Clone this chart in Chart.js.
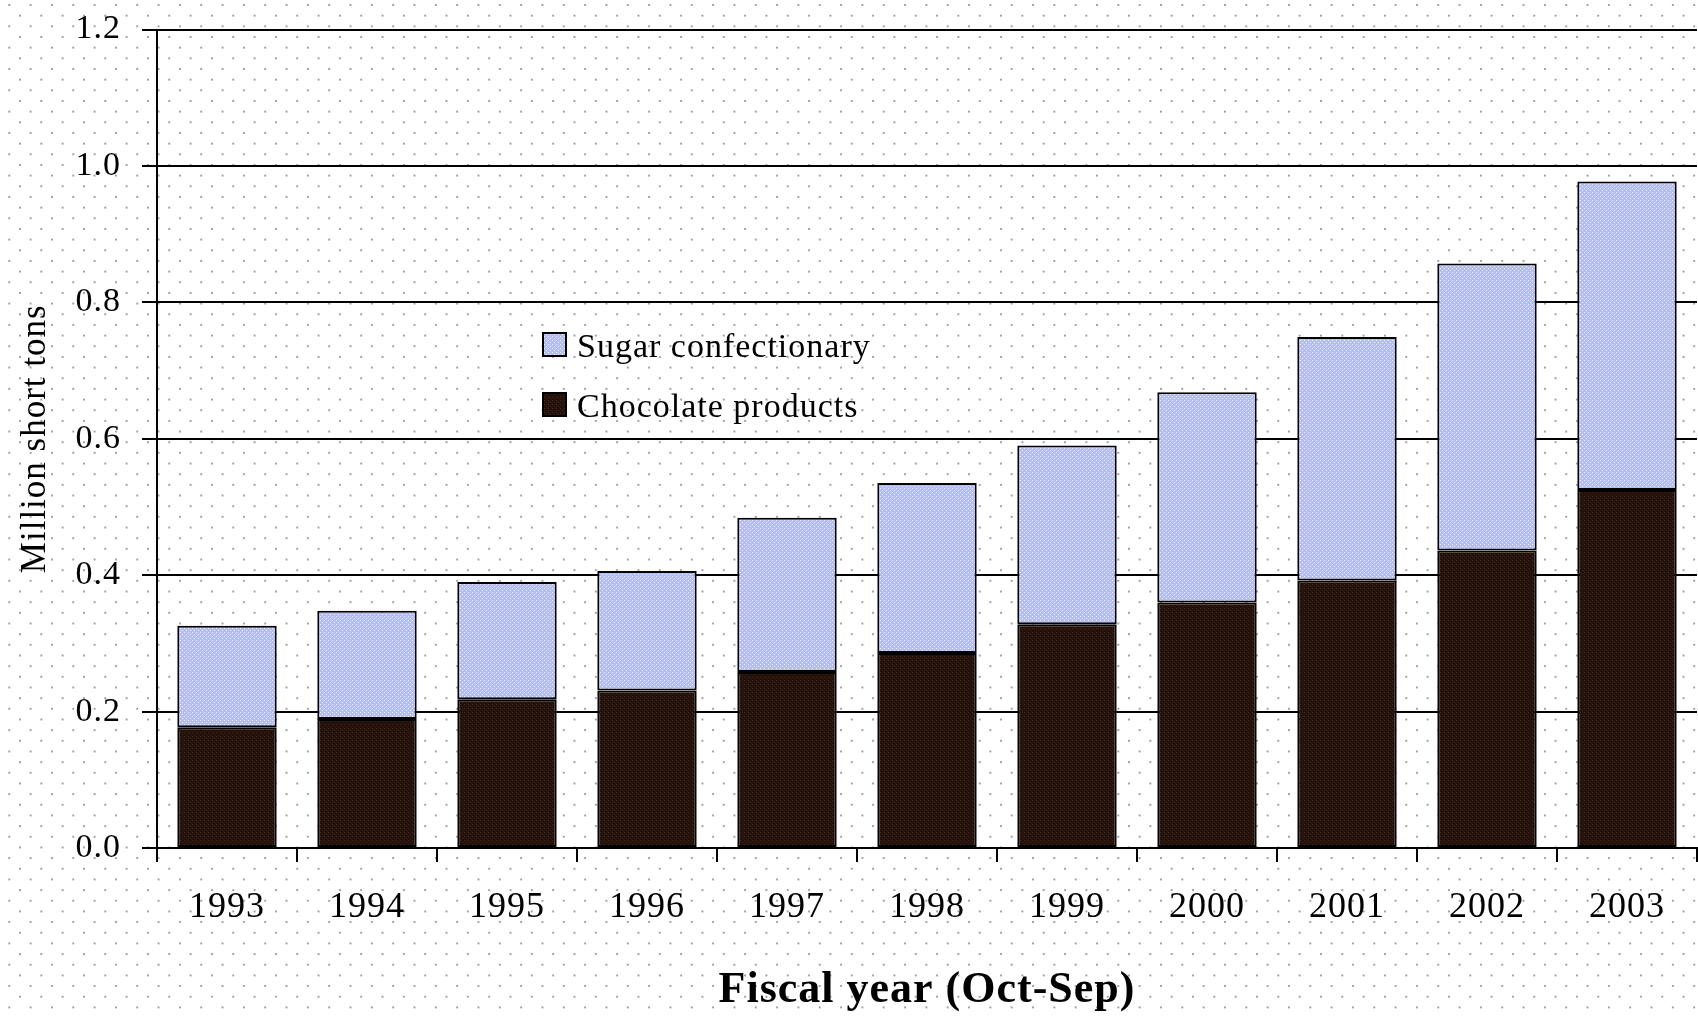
<!DOCTYPE html>
<html>
<head>
<meta charset="utf-8">
<title>Confectionery</title>
<script src="https://cdn.jsdelivr.net/npm/chart.js@4.4.0/dist/chart.umd.min.js"></script>
<style>
  html, body {
    margin: 0;
    padding: 0;
    background-color: #fff;
    background-image:
      radial-gradient(circle, #a0a0a0 0.9px, transparent 1.4px),
      radial-gradient(circle, #a0a0a0 0.9px, transparent 1.4px);
    background-size: 21.33px 21.33px;
    background-position: -1.4px -5.7px, 9.3px 5px;
  }
  #wrap { width: 1698px; height: 1017px; position: relative; }
</style>
</head>
<body>
<div id="wrap"><canvas id="chart"></canvas></div>
<script>
const years = ["1993", "1994", "1995", "1996", "1997", "1998", "1999", "2000", "2001", "2002", "2003"];
const chocolate = [0.177, 0.189, 0.218, 0.231, 0.258, 0.286, 0.328, 0.360, 0.392, 0.436, 0.525];
const sugar = [0.149, 0.159, 0.172, 0.175, 0.226, 0.249, 0.262, 0.308, 0.357, 0.421, 0.452];
const yTicks = [0, 0.2, 0.4, 0.6, 0.8, 1.0, 1.2];

const serif = "'Liberation Serif', 'DejaVu Serif', serif";

// little dithered tiles, roughly like the scanned fill
const makePattern = (base, dots) => {
  const c = document.createElement("canvas");
  c.width = 4;
  c.height = 4;
  const g = c.getContext("2d");
  g.fillStyle = base;
  g.fillRect(0, 0, 4, 4);
  dots.forEach(([x, y, col]) => {
    g.fillStyle = col;
    g.fillRect(x, y, 1, 1);
  });
  return g.createPattern(c, "repeat");
};

const sugarFill = makePattern("#b8bbf8", [[0, 0, "#e8f4ff"], [2, 2, "#e8f4ff"], [1, 3, "#8fd2ee"], [3, 1, "#a6c8f2"]]);
const chocFill = makePattern("#26120c", [[0, 0, "#3d2818"], [2, 2, "#35200f"], [1, 3, "#1a0a06"]]);

// the old bitmap font is set a bit loose
const looseText = {
  id: "looseText",
  beforeDraw(chart) {
    chart.ctx.letterSpacing = "1px";
  }
};

// legend drawn inside the plot, sugar first
const insideLegend = {
  id: "insideLegend",
  afterDatasetsDraw(chart) {
    const ctx = chart.ctx;
    const items = chart.data.datasets.slice().reverse();
    ctx.save();
    ctx.font = "34px " + serif;
    ctx.letterSpacing = "1px";
    ctx.textBaseline = "middle";
    ctx.textAlign = "left";
    items.forEach((ds, i) => {
      const y = 345 + i * 60;
      ctx.fillStyle = ds.backgroundColor;
      ctx.fillRect(543, y - 12, 23, 23);
      ctx.strokeStyle = "#000";
      ctx.lineWidth = 2;
      ctx.strokeRect(543, y - 12, 23, 23);
      ctx.fillStyle = "#000";
      ctx.fillText(ds.label, 577, y + 3);
    });
    ctx.restore();
  }
};

new Chart(document.getElementById("chart"), {
  type: "bar",
  data: {
    labels: years,
    datasets: [
      {
        label: "Chocolate products",
        data: chocolate,
        backgroundColor: chocFill,
        borderColor: "#000",
        borderWidth: 2,
        borderSkipped: false,
        barPercentage: 0.71,
        categoryPercentage: 1
      },
      {
        label: "Sugar confectionary",
        data: sugar,
        backgroundColor: sugarFill,
        borderColor: "#000",
        borderWidth: 2,
        borderSkipped: false,
        barPercentage: 0.71,
        categoryPercentage: 1
      }
    ]
  },
  options: {
    responsive: true,
    maintainAspectRatio: false,
    animation: false,
    layout: { padding: { top: 29, right: 1, left: 0, bottom: 0 } },
    plugins: {
      legend: { display: false },
      tooltip: { enabled: false }
    },
    scales: {
      x: {
        stacked: true,
        afterFit: (s) => { s.height = 169; },
        grid: {
          offset: true,
          drawOnChartArea: false,
          color: "#000",
          lineWidth: 2,
          tickLength: 14
        },
        border: { display: true, color: "#000", width: 2 },
        ticks: {
          color: "#000",
          font: { family: serif, size: 36 },
          padding: 24,
          maxRotation: 0
        },
        title: {
          display: true,
          text: "Fiscal year (Oct-Sep)",
          color: "#000",
          font: { family: serif, size: 44, weight: "bold" },
          padding: { top: 0, bottom: 0 }
        }
      },
      y: {
        stacked: true,
        min: 0,
        max: 1.2,
        afterFit: (s) => { s.width = 157; },
        afterBuildTicks: (s) => { s.ticks = yTicks.map((v) => ({ value: v })); },
        grid: {
          color: "#000",
          lineWidth: 2,
          tickLength: 15
        },
        border: { display: true, color: "#000", width: 2 },
        ticks: {
          color: "#000",
          font: { family: serif, size: 34, lineHeight: 0.5 },
          padding: 21,
          callback: (v) => Number(v).toFixed(1)
        },
        title: {
          display: true,
          text: "Million short tons",
          color: "#000",
          font: { family: serif, size: 35 },
          padding: { top: 15, bottom: 0 }
        }
      }
    }
  },
  plugins: [looseText, insideLegend]
});
</script>
</body>
</html>
